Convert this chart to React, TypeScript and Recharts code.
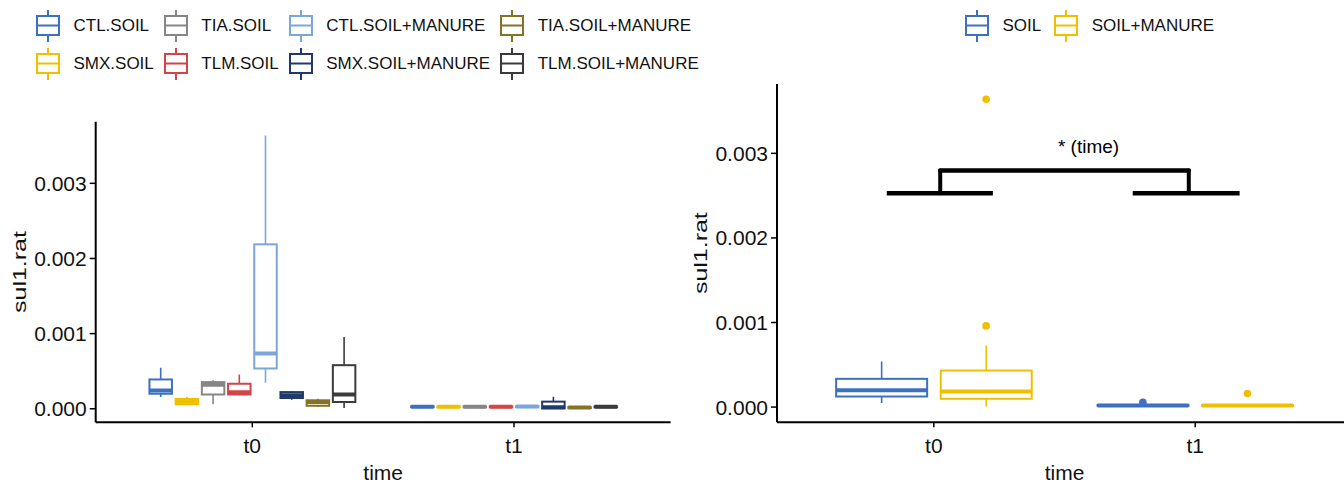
import React from 'react';
import {
  ComposedChart,
  Bar,
  Scatter,
  XAxis,
  YAxis,
  ReferenceLine,
  ReferenceDot,
  Label,
} from 'recharts';

// ---------- data ----------
const timeCats = ['t0', 't1'];
const yTicks = [0, 0.001, 0.002, 0.003];
const yDomain = [-0.00018, 0.00382];

// left panel groups (stats per time: [min, q1, median, q3, max])
const leftGroups = [
  'CTL.SOIL',
  'SMX.SOIL',
  'TIA.SOIL',
  'TLM.SOIL',
  'CTL.SOIL+MANURE',
  'SMX.SOIL+MANURE',
  'TIA.SOIL+MANURE',
  'TLM.SOIL+MANURE',
];
const leftColors = ['#3D70C3', '#EFC000', '#868686', '#D3434A', '#7AA6DC', '#1F3A6A', '#857222', '#3B3B3B'];

const ctlSoil = [
  [0.000156, 0.0002, 0.000243, 0.00039, 0.000546],
  [0.000015, 0.000022, 0.000028, 0.000034, 0.00004],
];
const smxSoil = [
  [0.00005, 0.00006, 0.00009, 0.00013, 0.00016],
  [0.000012, 0.00002, 0.000026, 0.000032, 0.000038],
];
const tiaSoil = [
  [0.00006, 0.00019, 0.00032, 0.000355, 0.00038],
  [0.000014, 0.00002, 0.000027, 0.000033, 0.00004],
];
const tlmSoil = [
  [0.00018, 0.00019, 0.00022, 0.000333, 0.000457],
  [0.000012, 0.00002, 0.000026, 0.000032, 0.000038],
];
const ctlSoilManure = [
  [0.000347, 0.000536, 0.000735, 0.002188, 0.003636],
  [0.000014, 0.000022, 0.000029, 0.000036, 0.000044],
];
const smxSoilManure = [
  [0.00012, 0.000143, 0.00018, 0.000222, 0.000236],
  [0.0, 0.000005, 0.00002, 0.000095, 0.00016],
];
const tiaSoilManure = [
  [0.000024, 0.00004, 0.00009, 0.000113, 0.000135],
  [0.000005, 0.00001, 0.000016, 0.000022, 0.000028],
];
const tlmSoilManure = [
  [0.00001, 0.00009, 0.00019, 0.00058, 0.000956],
  [0.000012, 0.00002, 0.000026, 0.000032, 0.000038],
];
const leftStats = [ctlSoil, smxSoil, tiaSoil, tlmSoil, ctlSoilManure, smxSoilManure, tiaSoilManure, tlmSoilManure];

// right panel groups
const rightGroups = ['SOIL', 'SOIL+MANURE'];
const rightColors = ['#3D70C3', '#EFC000'];
const soilStats = [
  [0.000047, 0.000125, 0.0002, 0.000334, 0.000539],
  [0.000008, 0.000015, 0.00002, 0.000025, 0.000032],
];
const soilManureStats = [
  [0.000007, 0.000098, 0.000185, 0.000432, 0.000728],
  [0.000005, 0.000012, 0.000018, 0.000024, 0.00003],
];
const rightStats = [soilStats, soilManureStats];
// outliers: [time index, value]
const soilOutliers = [[1, 0.000055]];
const soilManureOutliers = [
  [0, 0.00096],
  [0, 0.00364],
  [1, 0.00016],
];
const rightOutliers = [soilOutliers, soilManureOutliers];

// significance bracket (numeric x: t0 = 1, t1 = 2)
const bracketLow = 0.002527;
const bracketHigh = 0.002797;
const bracketLeftSpan = [0.82, 1.226];
const bracketRightSpan = [1.761, 2.17];
const bracketDrops = [1.0245, 1.9755];
const sigLabel = '* (time)';
const sigLabelPos = { x: 1.592, y: 0.003003 };

// ---------- helpers ----------
const FONT = "'Liberation Sans', Arial, Helvetica, sans-serif";
const TXT = '#111';

const leftRows = timeCats.map((t, i) => {
  const row: any = { time: t };
  leftGroups.forEach((g, j) => (row[g] = leftStats[j][i]));
  return row;
});
const rightRows = timeCats.map((t, i) => {
  const row: any = { time: t };
  rightGroups.forEach((g, j) => (row[g] = rightStats[j][i]));
  return row;
});
const dodge = 0.4;
const outlierData = rightOutliers.map((list, gi) =>
  list.map(([ti, v]) => ({ x: ti + 1 + (gi - 0.5) * dodge, y: v }))
);

const rangeKey = (g: string) => (r: any) => (r && r[g] ? [r[g][0], r[g][4]] : null);

function makeBoxShape(key: string, color: string) {
  return (props: any) => {
    const { x, y, width, height, payload } = props;
    const s = payload ? payload[key] : null;
    if (!s || x == null || y == null) return null;
    const top = Math.min(y, y + height);
    const bot = Math.max(y, y + height);
    const span = bot - top;
    const py = (v: number) => (s[4] === s[0] ? top : top + ((s[4] - v) / (s[4] - s[0])) * span);
    const cx = x + width / 2;
    const yQ3 = py(s[3]);
    const yQ1 = py(s[1]);
    return (
      <g>
        <line x1={cx} x2={cx} y1={py(s[4])} y2={yQ3} stroke={color} strokeWidth={1.6} />
        <line x1={cx} x2={cx} y1={yQ1} y2={py(s[0])} stroke={color} strokeWidth={1.6} />
        <rect x={x} y={yQ3} width={width} height={Math.max(0, yQ1 - yQ3)} fill="#fff" stroke={color} strokeWidth={2} />
        <line x1={x} x2={x + width} y1={py(s[2])} y2={py(s[2])} stroke={color} strokeWidth={4} />
      </g>
    );
  };
}

const YTick = (props: any) => {
  const { x, y, payload } = props;
  return (
    <text x={x} y={y} dy={7.5} textAnchor="end" fontSize={21} fontFamily={FONT} fill={TXT}>
      {Number(payload.value).toFixed(3)}
    </text>
  );
};

const XTick = (props: any) => {
  const { x, y, payload } = props;
  return (
    <text x={x} y={y} dy={24} textAnchor="middle" fontSize={21} fontFamily={FONT} fill={TXT}>
      {payload.value}
    </text>
  );
};

const XTitle = (props: any) => {
  const vb = props.viewBox || {};
  return (
    <text x={(vb.x || 0) + (vb.width || 0) / 2} y={480} textAnchor="middle" fontSize={21} fontFamily={FONT} fill={TXT}>
      time
    </text>
  );
};

const YTitle = (props: any) => {
  const vb = props.viewBox || {};
  const bx = (vb.x || 0) + (vb.width || 0) - 70;
  const cy = (vb.y || 0) + (vb.height || 0) / 2;
  return (
    <g transform={`translate(${bx},${cy}) rotate(-90) scale(1.35,1)`}>
      <text x={0} y={0} textAnchor="middle" fontSize={18.5} fontFamily={FONT} fill={TXT}>
        sul1.rat
      </text>
    </g>
  );
};

const SigText = (props: any) => {
  const vb = props.viewBox || {};
  return (
    <text
      x={(vb.x || 0) + (vb.width || 0) / 2}
      y={(vb.y || 0) + (vb.height || 0) / 2}
      textAnchor="middle"
      fontSize={19}
      fontFamily={FONT}
      fill="#000"
    >
      {sigLabel}
    </text>
  );
};

const LegendIcon = ({ color }: { color: string }) => (
  <svg width={24} height={32} style={{ display: 'block', flex: 'none' }}>
    <line x1={12} x2={12} y1={0} y2={6} stroke={color} strokeWidth={2} />
    <line x1={12} x2={12} y1={25} y2={32} stroke={color} strokeWidth={2} />
    <rect x={1} y={6} width={22} height={19} fill="#fff" stroke={color} strokeWidth={2} />
    <line x1={1} x2={23} y1={15.5} y2={15.5} stroke={color} strokeWidth={2} />
  </svg>
);

const LegendItem = ({ label, color }: { label: string; color: string }) => (
  <div style={{ display: 'flex', alignItems: 'center', height: 38 }}>
    <LegendIcon color={color} />
    <span style={{ marginLeft: 13.5, fontSize: 17, fontFamily: FONT, color: TXT, whiteSpace: 'nowrap' }}>{label}</span>
  </div>
);

const axisLine = { stroke: '#000', strokeWidth: 2 };
const tickLine = { stroke: '#000', strokeWidth: 1.5 };

export default function App() {
  const leftCols: number[][] = [];
  for (let c = 0; c < 4; c++) leftCols.push([c * 2, c * 2 + 1]);
  return (
    <div
      style={{
        position: 'absolute',
        left: 0,
        top: 0,
        width: 1344,
        height: 486,
        overflow: 'hidden',
        background: '#fff',
      }}
    >
      <div style={{ position: 'absolute', left: 36, top: 7, display: 'flex' }}>
        {leftCols.map((col, ci) => (
          <div key={ci} style={{ display: 'flex', flexDirection: 'column', marginRight: 10 }}>
            {col.map((gi) => (
              <LegendItem key={gi} label={leftGroups[gi]} color={leftColors[gi]} />
            ))}
          </div>
        ))}
      </div>
      <div style={{ position: 'absolute', left: 965, top: 7, display: 'flex' }}>
        {rightGroups.map((g, gi) => (
          <div key={g} style={{ marginRight: 13 }}>
            <LegendItem label={g} color={rightColors[gi]} />
          </div>
        ))}
      </div>

      <div style={{ position: 'absolute', left: 0, top: 0 }}>
        <ComposedChart
          width={680}
          height={486}
          data={leftRows}
          margin={{ top: 121.7, right: 9.4, bottom: 0, left: 0 }}
          barGap={3.7}
          barSize={22.5}
        >
          <XAxis
            dataKey="time"
            padding={{ left: 25.75, right: 25.75 }}
            height={63.7}
            tickSize={5}
            tickMargin={2}
            tick={XTick}
            axisLine={axisLine}
            tickLine={tickLine}
          >
            <Label content={XTitle} />
          </XAxis>
          <YAxis
            type="number"
            domain={yDomain}
            ticks={yTicks}
            allowDataOverflow
            width={95.7}
            tickSize={6}
            tickMargin={3}
            tick={YTick}
            axisLine={axisLine}
            tickLine={tickLine}
          >
            <Label content={YTitle} />
          </YAxis>
          {leftGroups.map((g, gi) => (
            <Bar
              key={g}
              dataKey={rangeKey(g)}
              name={g}
              fill={leftColors[gi]}
              shape={makeBoxShape(g, leftColors[gi])}
              isAnimationActive={false}
            />
          ))}
        </ComposedChart>
      </div>

      <div style={{ position: 'absolute', left: 680, top: 0 }}>
        <ComposedChart
          width={680}
          height={486}
          data={rightRows}
          margin={{ top: 84, right: 8, bottom: 0, left: 0 }}
          barGap={13.6}
          barSize={91}
        >
          <XAxis
            dataKey="time"
            padding={{ left: 26.14, right: 26.14 }}
            height={63.7}
            tickSize={5}
            tickMargin={2}
            tick={XTick}
            axisLine={axisLine}
            tickLine={tickLine}
          >
            <Label content={XTitle} />
          </XAxis>
          <XAxis xAxisId="num" type="number" dataKey="x" domain={[0.4, 2.6]} allowDataOverflow hide />
          <YAxis
            type="number"
            domain={yDomain}
            ticks={yTicks}
            allowDataOverflow
            width={97}
            tickSize={6}
            tickMargin={3}
            tick={YTick}
            axisLine={axisLine}
            tickLine={tickLine}
          >
            <Label content={YTitle} />
          </YAxis>
          {rightGroups.map((g, gi) => (
            <Bar
              key={g}
              dataKey={rangeKey(g)}
              name={g}
              fill={rightColors[gi]}
              shape={makeBoxShape(g, rightColors[gi])}
              isAnimationActive={false}
            />
          ))}
          {rightGroups.map((g, gi) => (
            <Scatter
              key={'o' + g}
              xAxisId="num"
              data={outlierData[gi]}
              dataKey="y"
              isAnimationActive={false}
              shape={(p: any) => <circle cx={p.cx} cy={p.cy} r={3.8} fill={rightColors[gi]} />}
            />
          ))}
          <ReferenceLine
            xAxisId="num"
            segment={[
              { x: bracketLeftSpan[0], y: bracketLow },
              { x: bracketLeftSpan[1], y: bracketLow },
            ]}
            stroke="#000"
            strokeWidth={4.5}
            ifOverflow="visible"
          />
          <ReferenceLine
            xAxisId="num"
            segment={[
              { x: bracketRightSpan[0], y: bracketLow },
              { x: bracketRightSpan[1], y: bracketLow },
            ]}
            stroke="#000"
            strokeWidth={4.5}
            ifOverflow="visible"
          />
          <ReferenceLine
            xAxisId="num"
            segment={[
              { x: bracketDrops[0], y: bracketLow },
              { x: bracketDrops[0], y: bracketHigh },
            ]}
            stroke="#000"
            strokeWidth={4}
            strokeLinecap="round"
            ifOverflow="visible"
          />
          <ReferenceLine
            xAxisId="num"
            segment={[
              { x: bracketDrops[0], y: bracketHigh },
              { x: bracketDrops[1], y: bracketHigh },
            ]}
            stroke="#000"
            strokeWidth={4.5}
            strokeLinecap="round"
            ifOverflow="visible"
          />
          <ReferenceLine
            xAxisId="num"
            segment={[
              { x: bracketDrops[1], y: bracketHigh },
              { x: bracketDrops[1], y: bracketLow },
            ]}
            stroke="#000"
            strokeWidth={4}
            strokeLinecap="round"
            ifOverflow="visible"
          />
          <ReferenceDot
            xAxisId="num"
            x={sigLabelPos.x}
            y={sigLabelPos.y}
            r={0}
            fill="none"
            stroke="none"
            ifOverflow="visible"
          >
            <Label content={SigText} />
          </ReferenceDot>
        </ComposedChart>
      </div>
    </div>
  );
}
